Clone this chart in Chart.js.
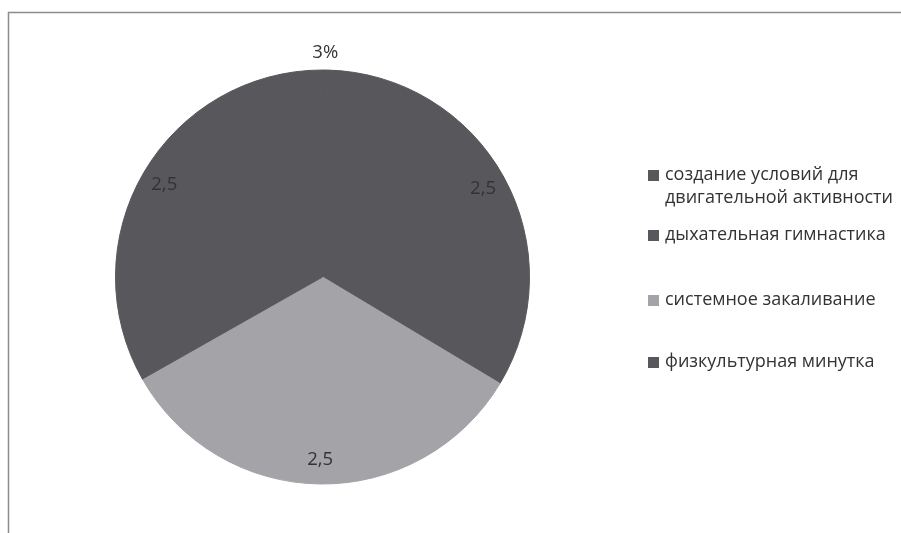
<!DOCTYPE html>
<html>
<head>
<meta charset="utf-8">
<script src="https://cdn.jsdelivr.net/npm/chart.js@4"></script>
<style>
  body { margin: 0; background: #fff; }
  #wrap { width: 901px; height: 533px; }
</style>
</head>
<body>
<div id="wrap"><canvas id="myChart" width="901" height="533"></canvas></div>
<script>
let categories = ['создание условий для двигательной активности', 'дыхательная гимнастика', 'системное закаливание', 'физкультурная минутка'];
let values = [0.03, 2.5, 2.5, 2.5];
let valueLabels = ['3%', '2,5', '2,5', '2,5'];
let colors = ['#58585c', '#58585c', '#a3a3a8', '#58585c'];

// legend rows: text lines per item
let legendLines = [['создание условий для', 'двигательной активности'], ['дыхательная гимнастика'], ['системное закаливание'], ['физкультурная минутка']];

let decor = {
  id: 'decor',
  beforeDraw(chart) {
    let c = chart.ctx;
    c.save();
    c.fillStyle = '#fff';
    c.fillRect(0, 0, chart.width, chart.height);
    c.strokeStyle = '#8c8c8c';
    c.lineWidth = 1.5;
    c.beginPath();
    c.moveTo(8.5, chart.height);
    c.lineTo(8.5, 12.5);
    c.lineTo(chart.width, 12.5);
    c.stroke();
    c.restore();
  },
  afterDraw(chart) {
    let c = chart.ctx;
    let meta = chart.getDatasetMeta(0);
    c.save();
    c.font = '18.5px "Open Sans"';
    c.fillStyle = '#333';
    c.textAlign = 'center';
    c.textBaseline = 'middle';
    meta.data.forEach((arc, i) => {
      let p = arc.getProps(['x', 'y', 'startAngle', 'endAngle', 'outerRadius'], true);
      let mid = (p.startAngle + p.endAngle) / 2;
      let r = i === 0 ? p.outerRadius + 17 : p.outerRadius * 0.885;
      c.fillText(valueLabels[i], p.x + Math.cos(mid) * r, p.y + Math.sin(mid) * r);
    });

    // legend
    let rowY = [175, 235, 300, 362];
    c.font = '18px "Open Sans"';
    c.textAlign = 'left';
    legendLines.forEach((lines, i) => {
      c.fillStyle = colors[i];
      c.fillRect(648, rowY[i] - 5, 11, 11);
      c.fillStyle = '#333';
      lines.forEach((t, j) => c.fillText(t, 665, rowY[i] + j * 23));
    });
    c.restore();
  }
};

let ctx = document.getElementById('myChart');
let myChart = new Chart(ctx, {
  type: 'pie',
  data: {
    labels: categories,
    datasets: [{
      data: values,
      backgroundColor: colors,
      borderColor: colors,
      borderWidth: 1
    }]
  },
  options: {
    responsive: false,
    animation: false,
    layout: { padding: { top: 69.5, bottom: 48.5, left: 115, right: 371 } },
    plugins: {
      legend: { display: false },
      tooltip: { enabled: false }
    }
  },
  plugins: [decor]
});
</script>
</body>
</html>
